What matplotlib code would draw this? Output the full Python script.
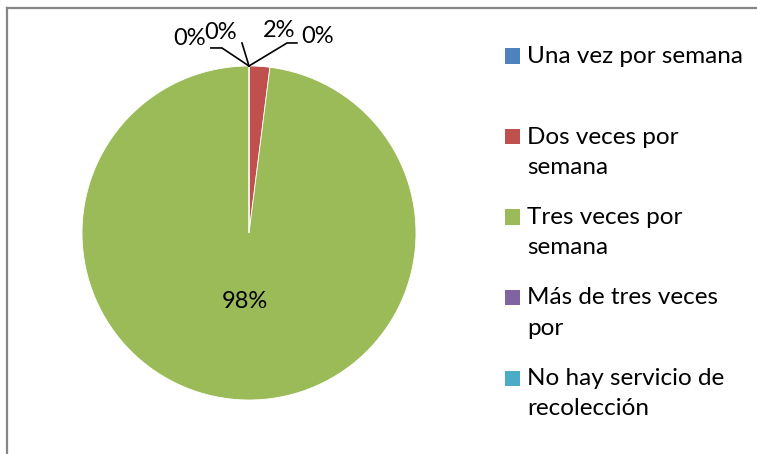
import numpy as np
from matplotlib import pyplot as plt
from matplotlib.patches import Rectangle
from matplotlib.lines import Line2D

categories = ["Una vez por semana", "Dos veces por\nsemana", "Tres veces por\nsemana",
              "Más de tres veces\npor", "No hay servicio de\nrecolección"]
values = [0, 2, 98, 0, 0]
pct_labels = ["0%", "2%", "98%", "0%", "0%"]
colors = ["#4F81BD", "#C0504D", "#9BBB59", "#8064A2", "#4BACC6"]

plt.rcParams['font.family'] = ['Lato', 'DejaVu Sans']

W, H = 757, 454
fig = plt.figure(figsize=(W / 100, H / 100), dpi=100)

# outer chart frame (top and left edges visible)
fig.add_artist(Line2D([7 / W, 7 / W], [0, 1 - 8 / H], color="#868686", lw=1.6, transform=fig.transFigure))
fig.add_artist(Line2D([7 / W, 1], [1 - 8 / H, 1 - 8 / H], color="#868686", lw=1.6, transform=fig.transFigure))

# pie axes: centre (249, 233) px, radius 167 px
cx, cy, r = 249, 233, 167
ax = fig.add_axes([(cx - r) / W, (H - cy - r) / H, 2 * r / W, 2 * r / H])
ax.set_aspect('equal')
wedges, _ = ax.pie(values, colors=colors, startangle=90, counterclock=False,
                   wedgeprops=dict(edgecolor='white', linewidth=0.6))
ax.set_xlim(-1, 1)
ax.set_ylim(-1, 1)
ax.axis('off')

# label placement (data units, radius = 1): text centre, leader elbow
label_pos = {0: (0.413, 1.174), 1: (0.180, 1.210), 3: (-0.168, 1.198), 4: (-0.353, 1.162)}
leaders = {1: [(0.287, 1.138), (0.228, 1.138)],
           3: [(-0.042, 1.138)],
           4: [(-0.228, 1.108), (-0.162, 1.108)]}
for i, w in enumerate(wedges):
    if i == 2:
        mid = np.deg2rad((w.theta1 + w.theta2) / 2)
        ax.text(0.41 * np.cos(mid), 0.41 * np.sin(mid), pct_labels[i], ha='center', va='center',
                fontsize=17, color='black')
        continue
    tx, ty = label_pos[i]
    ax.text(tx, ty, pct_labels[i], ha='center', va='center', fontsize=17, color='black', clip_on=False)
    if i in leaders:
        pts = leaders[i] + [(0.0, 1.0)]
        xs, ys = zip(*pts)
        ax.plot(xs, ys, color='black', lw=1.2, clip_on=False)

# legend, drawn by hand to mimic the evenly spaced entries
for i, (lab, col) in enumerate(zip(categories, colors)):
    y = 56 + 80.5 * i
    fig.add_artist(Rectangle((505 / W, 1 - (y + 7.5) / H), 15 / W, 15 / H,
                             facecolor=col, edgecolor='none', transform=fig.transFigure))
    fig.text(527 / W, 1 - (y - 10) / H, lab, ha='left', va='top', fontsize=17.5,
             color='black', linespacing=1.55)

fig.savefig("out.png", dpi=100)
